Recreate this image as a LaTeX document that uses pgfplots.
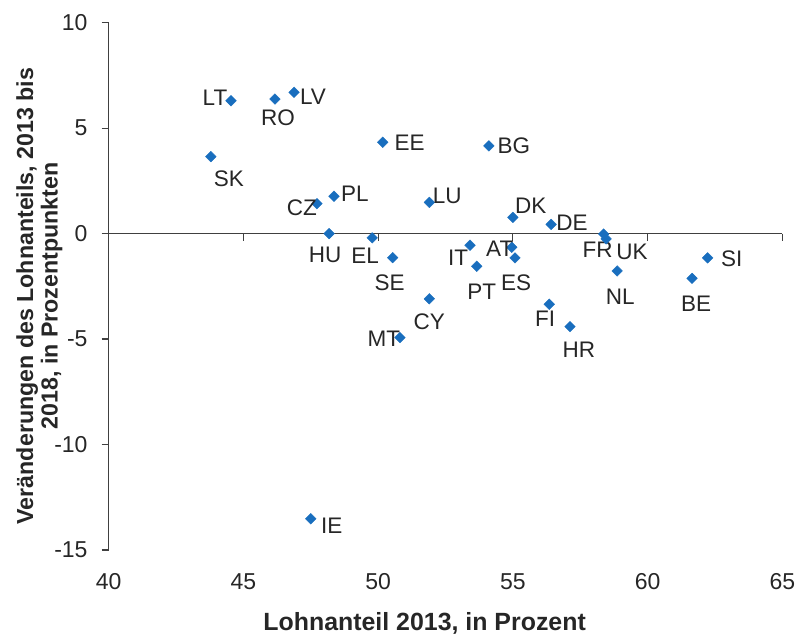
\documentclass[border=0pt]{standalone}
\usepackage{fontspec}
\setmainfont{Liberation Sans}
\usepackage{pgfplots}
\pgfplotsset{compat=1.18}
\usepackage{pgfplotstable}
\definecolor{mk}{RGB}{25,110,190}
\definecolor{ax}{RGB}{64,64,64}
\definecolor{tx}{RGB}{38,38,38}
\pgfdeclareplotmark{sqdiamond}{%
  \pgfpathmoveto{\pgfqpoint{0pt}{\pgfplotmarksize}}%
  \pgfpathlineto{\pgfqpoint{\pgfplotmarksize}{0pt}}%
  \pgfpathlineto{\pgfqpoint{0pt}{-\pgfplotmarksize}}%
  \pgfpathlineto{\pgfqpoint{-\pgfplotmarksize}{0pt}}%
  \pgfpathclose\pgfusepathqfillstroke}
\pgfplotstableread{
x y lbl dx dy
44.54 6.30 LT -16 3
46.17 6.38 RO 3 -19
46.88 6.70 LV 19 -4
43.79 3.65 SK 18 -22
50.17 4.33 EE 27 0
54.11 4.16 BG 25 0
48.36 1.77 PL 21 3
47.73 1.42 CZ -15 -4
51.90 1.48 LU 18 7
55.00 0.77 DK 18 12
56.42 0.44 DE 21 2
48.18 0.00 HU -4 -21
49.78 -0.20 EL -7 -18
50.54 -1.14 SE -3 -25
53.41 -0.55 IT -12 -13
54.96 -0.65 AT -12 -1
55.08 -1.15 ES 1 -25
53.66 -1.55 PT 5 -25
58.37 -0.02 FR -6 -16
58.46 -0.25 UK 26 -13
58.87 -1.77 NL 3 -26
62.23 -1.15 SI 24 -1
61.65 -2.12 BE 4 -25
51.90 -3.09 CY 0 -23
56.35 -3.35 FI -4 -14
57.12 -4.41 HR 9 -23
50.81 -4.93 MT -16 -1
47.50 -13.52 IE 21 -7
}\data
\begin{document}
\begin{tikzpicture}
\begin{axis}[
  scale only axis, width=673.6bp, height=527.3bp,
  xmin=40, xmax=65, ymin=-15, ymax=10,
  axis y line*=left, axis x line*=bottom,
  x axis line style={draw=none},
  y axis line style={draw=ax, line width=1.2bp},
  xtick={40,45,...,65}, ytick={-15,-10,...,10},
  xtick style={draw=none},
  ytick style={draw=ax, line width=1.2bp},
  tick align=outside, major tick length=7bp,
  /pgf/number format/assume math mode=true,
  ticklabel style={font=\fontsize{23bp}{27bp}\selectfont, text=tx},
  xticklabel style={anchor=north, inner sep=0pt, yshift=-16bp},
  yticklabel style={anchor=east, inner sep=0pt, xshift=-14bp},
  xlabel={Lohnanteil 2013, in Prozent},
  ylabel={Veränderungen des Lohnanteils, 2013 bis\\[-3.5bp]2018, in Prozentpunkten},
  xlabel style={font=\bfseries\fontsize{24.9bp}{28bp}\selectfont, text=tx, at={(axis description cs:0.469,0)}, anchor=center, yshift=-73.5bp},
  ylabel style={font=\bfseries\fontsize{23.2bp}{27.8bp}\selectfont, text=tx, align=center, at={(axis description cs:-0.1029,0.4817)}, anchor=center},
  clip=false,
]
\draw[ax, line width=1.2bp] (axis cs:40,0) -- (axis cs:65,0);
\pgfplotsinvokeforeach{45,50,55,60,65}{\draw[ax, line width=1.2bp] (axis cs:#1,0) -- ++(0bp,-7bp);}
\addplot[only marks, mark=sqdiamond, mark size=5.3bp, draw=mk, fill=mk, line width=0.4bp,
  point meta=explicit symbolic,
  nodes near coords,
  visualization depends on={\thisrow{dx}\as\dx},
  visualization depends on={\thisrow{dy}\as\dy},
  every node near coord/.append style={anchor=center, xshift=\dx bp, yshift=\dy bp, inner sep=0pt, text=tx, font=\fontsize{22.5bp}{26bp}\selectfont},
] table[x=x, y=y, meta=lbl] {\data};
\end{axis}
\pgfresetboundingbox
\path[use as bounding box] (-108.7bp,-85bp) rectangle (688.3bp,550bp);
\end{tikzpicture}
\end{document}
